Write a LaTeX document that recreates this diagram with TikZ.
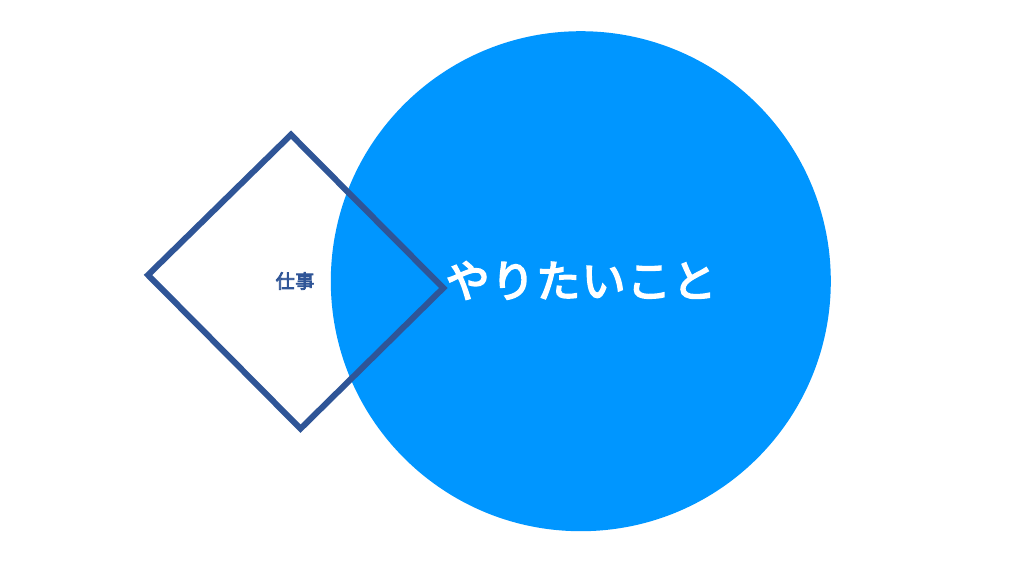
\documentclass[tikz,border=0pt]{standalone}
\usepackage{fontspec}
\newfontfamily\jpfont[FakeBold=4, LetterSpace=3]{Noto Sans CJK JP}
\definecolor{maruao}{RGB}{0,150,255}
\definecolor{konao}{RGB}{47,85,151}
\tikzset{
  waku/.style={draw=konao, line width=6pt, line join=miter},
  moji/.style={inner sep=0pt}
}
\begin{document}
\begin{tikzpicture}[x=1pt, y=-1pt]
    \useasboundingbox (0,0) rectangle (1024,576);
    \fill[white](0,0) rectangle (1024,576);
    \fill[maruao](580.8,281.2) circle[radius=250];
    \draw[waku](291,134.7)--(443.3,288)--(300.5,428.7)--(148,275)--cycle;
    \node[moji, text=konao, font=\jpfont\fontsize{19}{19}\selectfont](shigoto) at (295,281){仕事};
    \node[moji, text=white, font=\jpfont\fontsize{44}{44}\selectfont](yaritai) at (581,280.5){やりたいこと};
\end{tikzpicture}
\end{document}
